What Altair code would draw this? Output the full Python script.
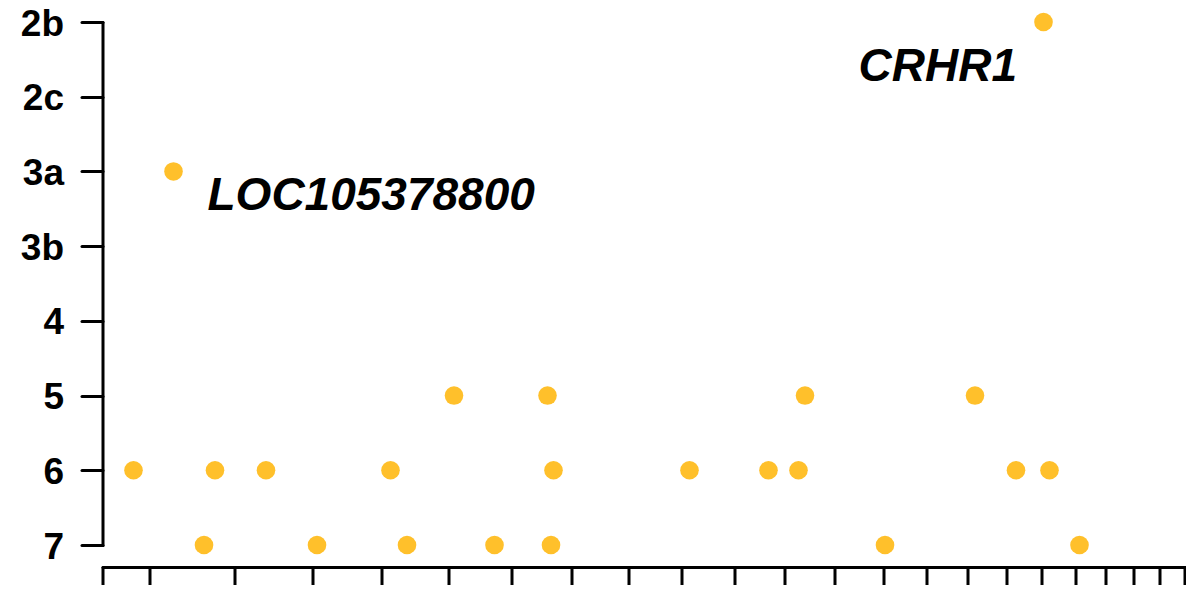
import altair as alt
import pandas as pd

# Category order on the y axis (top to bottom)
levels = ["2b", "2c", "3a", "3b", "4", "5", "6", "7"]

# Point positions (arbitrary genomic-position units along x) and their levels
pos = [31, 71, 101.5, 112.5, 163.5, 214.5, 288, 304.5, 351.5, 392, 445, 448.5, 451,
       587, 666, 696, 702.5, 782.5, 872.5, 913.5, 941, 947, 977]
lvl = ["6", "3a", "7", "6", "6", "7", "6", "7", "5", "7", "5", "7", "6",
       "6", "6", "6", "5", "7", "5", "6", "2b", "6", "7"]

# X axis tick positions (segment boundaries)
xticks = [0, 46.5, 132, 209.5, 278.5, 345.8, 408.7, 469, 526, 579.1, 631.5, 682,
          732.3, 780.7, 823.6, 865, 903.7, 939, 973, 1002.7, 1031.3, 1057.1, 1081.6]

# Gene labels
gene = ["LOC105378800", "CRHR1"]
gene_pos = [71, 941]
gene_lvl = ["3a", "2b"]

df = pd.DataFrame({"pos": pos, "level": lvl})
gdf = pd.DataFrame({"pos": gene_pos, "level": gene_lvl, "gene": gene})

W = 1083.5
H = 523

xs = alt.Scale(domain=[0, W], nice=False, zero=False)
ys = alt.Scale(domain=levels, padding=0)

xaxis = alt.Axis(values=xticks, labels=False, title=None, grid=False,
                 offset=22, domainWidth=3, domainColor="black",
                 tickSize=20, tickWidth=3, tickColor="black",
                 domainCap="round", tickCap="round")
yaxis = alt.Axis(title=None, grid=False, domainWidth=3, domainColor="black",
                 tickSize=21, tickWidth=3, tickColor="black",
                 labelFont="Liberation Sans", labelFontSize=37,
                 labelFontWeight="bold", labelColor="black", labelOffset=2,
                 labelPadding=18, domainCap="round", tickCap="round")

points = alt.Chart(df).mark_circle(size=346, opacity=1, color="#FFC02B").encode(
    x=alt.X("pos:Q", scale=xs, axis=xaxis),
    y=alt.Y("level:O", scale=ys, sort=levels, axis=yaxis),
)

lab1 = alt.Chart(gdf[gdf.gene == "LOC105378800"]).mark_text(
    font="Liberation Sans", fontSize=46, fontWeight="bold", fontStyle="italic",
    align="left", baseline="alphabetic", dx=34, dy=39, color="black"
).encode(x=alt.X("pos:Q", scale=xs, axis=xaxis),
         y=alt.Y("level:O", scale=ys, sort=levels, axis=yaxis), text="gene:N")

lab2 = alt.Chart(gdf[gdf.gene == "CRHR1"]).mark_text(
    font="Liberation Sans", fontSize=46, fontWeight="bold", fontStyle="italic",
    align="left", baseline="alphabetic", dx=-185, dy=59, color="black"
).encode(x=alt.X("pos:Q", scale=xs, axis=xaxis),
         y=alt.Y("level:O", scale=ys, sort=levels, axis=yaxis), text="gene:N")

chart = alt.layer(points, lab1, lab2).properties(
    width=W, height=H,
    autosize=alt.AutoSizeParams(type="none"),
    padding={"left": 94.5, "top": 14, "right": 0, "bottom": 40},
).configure(background="white").configure_view(stroke=None).configure_axis(grid=False)

chart.save("out.html", embed_options={"renderer": "svg", "actions": False})
